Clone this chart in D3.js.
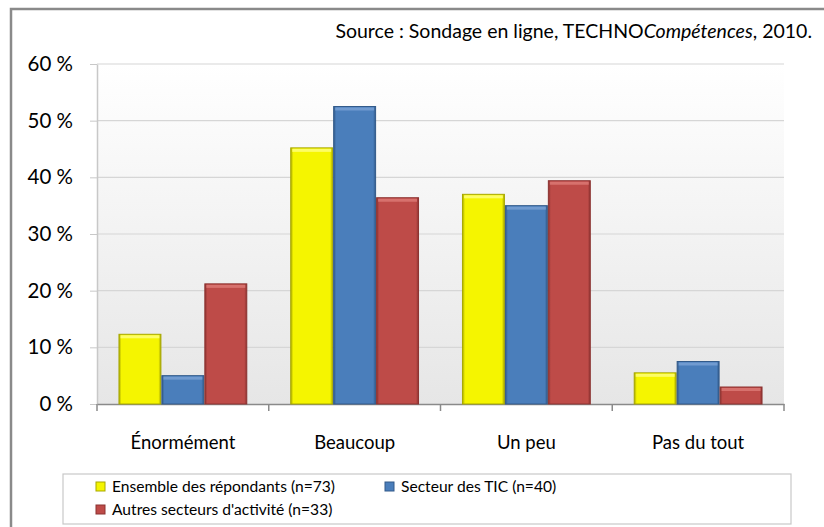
<!DOCTYPE html>
<html>
<head>
<meta charset="utf-8">
<script src="https://cdn.jsdelivr.net/npm/d3@7"></script>
<style>
  body { margin: 0; background: #fff; }
  text { font-family: Lato, "Open Sans", sans-serif; fill: #000; }
</style>
</head>
<body>
<div id="chart"></div>
<script>
// data
const categories = ["Énormément", "Beaucoup", "Un peu", "Pas du tout"];
const seriesNames = ["Ensemble des répondants (n=73)", "Secteur des TIC (n=40)", "Autres secteurs d'activité (n=33)"];
const ensemble = [12.3, 45.2, 37.0, 5.5];
const tic = [5.0, 52.5, 35.0, 7.5];
const autres = [21.2, 36.4, 39.4, 3.0];
const yTicks = [0, 10, 20, 30, 40, 50, 60];
const colors = ["#f5f500", "#4a7ebb", "#be4b48"];
const darker = ["#a8a800", "#325a8a", "#8c3230"];
const lighter = ["#ffff80", "#7aa3d6", "#dd7a77"];

const W = 824, H = 527;
var margin = { top: 64, right: 40, bottom: 123, left: 97 },
    width = 784 - margin.left,
    height = 404 - margin.top;

var svg = d3.select("#chart").append("svg")
    .attr("width", W).attr("height", H);

var defs = svg.append("defs");
var bg = defs.append("linearGradient").attr("id", "bg")
    .attr("x1", 0).attr("y1", 0).attr("x2", 0).attr("y2", 1);
bg.append("stop").attr("offset", "0%").attr("stop-color", "#ffffff");
bg.append("stop").attr("offset", "100%").attr("stop-color", "#e6e6e6");

colors.forEach(function (c, i) {
    var g = defs.append("linearGradient").attr("id", "bar" + i)
        .attr("x1", 0).attr("y1", 0).attr("x2", 1).attr("y2", 0);
    g.append("stop").attr("offset", "0%").attr("stop-color", darker[i]);
    g.append("stop").attr("offset", "6%").attr("stop-color", c);
    g.append("stop").attr("offset", "94%").attr("stop-color", c);
    g.append("stop").attr("offset", "100%").attr("stop-color", darker[i]);
});

// outer frame
svg.append("rect")
    .attr("x", 11).attr("y", 9).attr("width", W).attr("height", H)
    .attr("fill", "none").attr("stroke", "#8a8a8a").attr("stroke-width", 2.5);

// source
var src = svg.append("text")
    .attr("x", 812).attr("y", 38)
    .attr("text-anchor", "end")
    .style("font-size", "19.5px");
src.append("tspan").text("Source : Sondage en ligne, TECHNO");
src.append("tspan").style("font-style", "italic").text("Compétences");
src.append("tspan").text(", 2010.");

var g = svg.append("g")
    .attr("transform", "translate(" + margin.left + "," + margin.top + ")");

var x0 = d3.scaleBand().domain(categories).range([0, width]).padding(0);
var x1 = d3.scaleBand().domain(d3.range(3)).range([0, x0.bandwidth()])
    .paddingInner(0).paddingOuter(0.5);
var y = d3.scaleLinear().domain([0, 60]).range([height, 0]);

g.append("rect").attr("width", width).attr("height", height).attr("fill", "url(#bg)");

// gridlines
g.selectAll(".grid").data(yTicks.slice(1)).enter().append("line")
    .attr("x1", 0).attr("x2", width)
    .attr("y1", d => y(d)).attr("y2", d => y(d))
    .attr("stroke", "#d6d6d6").attr("stroke-width", 1.2);

// y axis
var yAxis = g.append("g")
    .call(d3.axisLeft(y).tickValues(yTicks).tickSize(7).tickSizeOuter(0).tickFormat(d => d + " %"));
yAxis.select(".domain").attr("stroke", "#c8c8c8").attr("stroke-width", 1.5);
yAxis.selectAll(".tick line").attr("stroke", "#c8c8c8");
yAxis.selectAll(".tick text").attr("x", -24).style("font-size", "20.5px")
    .style("font-family", "Lato, sans-serif");

// x axis
var xAxis = g.append("g").attr("transform", "translate(0," + height + ")")
    .call(d3.axisBottom(x0).tickSize(0).tickSizeOuter(0));
xAxis.select(".domain").attr("stroke", "#8a8a8a").attr("stroke-width", 1.5);
xAxis.selectAll(".tick text").attr("y", 32).style("font-size", "18.5px")
    .style("font-family", "Lato, sans-serif");
g.selectAll(".xtick").data(d3.range(categories.length + 1)).enter().append("line")
    .attr("x1", d => d * x0.step()).attr("x2", d => d * x0.step())
    .attr("y1", height).attr("y2", height + 7)
    .attr("stroke", "#8a8a8a").attr("stroke-width", 1.5);

// bars
var seriesData = [ensemble, tic, autres];
var groups = g.selectAll(".cat").data(categories).enter().append("g")
    .attr("transform", d => "translate(" + x0(d) + ",0)");
groups.each(function (cat, ci) {
    var gg = d3.select(this);
    seriesData.forEach(function (vals, si) {
        var v = vals[ci];
        var bx = x1(si), bw = x1.bandwidth();
        gg.append("rect")
            .attr("x", bx + 0.5).attr("y", y(v))
            .attr("width", bw - 1).attr("height", height - y(v))
            .attr("fill", "url(#bar" + si + ")")
            .attr("stroke", darker[si]).attr("stroke-width", 1);
        gg.append("rect")
            .attr("x", bx + 2).attr("y", y(v) + 1)
            .attr("width", bw - 4).attr("height", 3)
            .attr("fill", lighter[si]).attr("opacity", 0.8);
    });
});

// legend
var leg = svg.append("g");
leg.append("rect").attr("x", 63).attr("y", 474).attr("width", 728).attr("height", 50)
    .attr("fill", "#fff").attr("stroke", "#c8c8c8").attr("stroke-width", 1.2);
var legPos = [[96, 487], [385, 487], [96, 510]];
seriesNames.forEach(function (name, i) {
    var p = legPos[i];
    leg.append("rect").attr("x", p[0]).attr("y", p[1] - 5).attr("width", 9).attr("height", 9)
        .attr("fill", colors[i]).attr("stroke", darker[i]).attr("stroke-width", 1);
    leg.append("text").attr("x", p[0] + 16).attr("y", p[1]).attr("dy", "0.35em")
        .style("font-size", "15.6px").text(name);
});
</script>
</body>
</html>
